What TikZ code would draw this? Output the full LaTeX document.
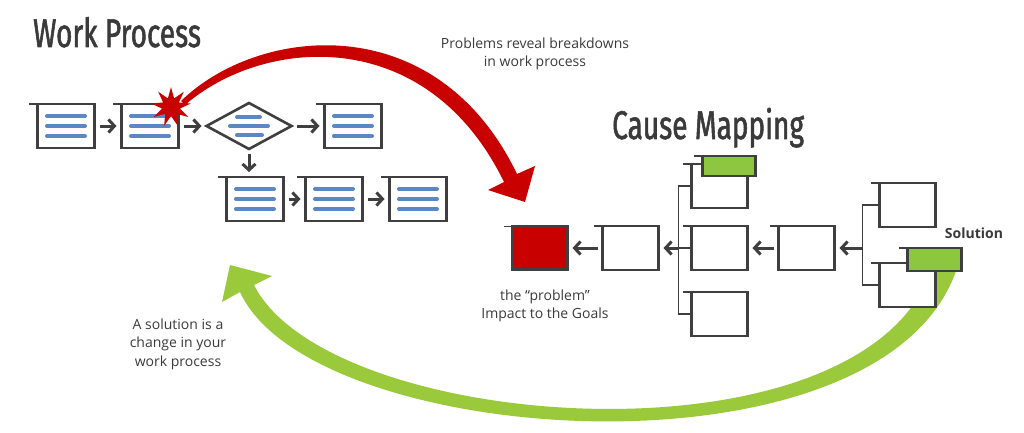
\documentclass[tikz,border=0pt]{standalone}
\usepackage{fontspec}
\setmainfont{Open Sans}
\newfontfamily\headfont[FakeStretch=0.70,FakeBold=1.4]{Fira Sans}
\definecolor{cmInk}{HTML}{3F3F3F}
\definecolor{cmText}{HTML}{3A3A3A}
\definecolor{cmBlue}{HTML}{5B87C5}
\definecolor{cmRed}{HTML}{C80000}
\definecolor{cmGreen}{HTML}{8DC63F}
\definecolor{cmArc}{HTML}{9ACA3C}
\usetikzlibrary{arrows.meta,positioning,shapes.geometric}

\begin{document}
\begin{tikzpicture}[x=1pt,y=-1pt,
  bar/.style={cmBlue,line width=4pt,line cap=round},
  doc/.style={draw=cmInk,line width=2.8pt,fill=white,inner sep=0pt,outer sep=0pt,
              minimum width=57pt,minimum height=44pt,
              path picture={\foreach \dy in {-10,0,10}
                \draw[bar] ([xshift=-19pt,yshift=\dy pt]path picture bounding box.center) -- ++(38pt,0);}},
  dec/.style={diamond,draw=cmInk,line width=2.6pt,fill=white,inner sep=0pt,outer sep=0pt,
              minimum width=85pt,minimum height=46pt,
              path picture={
                \draw[bar] ([xshift=-12pt,yshift=9pt]path picture bounding box.center) -- ++(23pt,0);
                \draw[bar] ([xshift=-19pt]path picture bounding box.center) -- ++(38pt,0);
                \draw[bar] ([xshift=-12pt,yshift=-9pt]path picture bounding box.center) -- ++(25pt,0);}},
  cbox/.style={draw=cmInk,line width=2.8pt,fill=white,inner sep=0pt,outer sep=0pt,
               minimum width=56pt,minimum height=44pt},
  hdr/.style={cbox,fill=cmGreen,minimum width=54pt,minimum height=21pt},
  tail/.style={cmInk,line width=1.3pt},
  link/.style={cmInk,line width=1.6pt},
  arr/.style={-{Straight Barb[length=6pt,width=13pt]},cmInk,line width=3pt,
              shorten <=5pt,shorten >=5pt},
  note/.style={align=center,text=cmText,font=\fontsize{14}{18.5}\selectfont},
  head/.style={text=cmText,font=\headfont\fontsize{40}{44}\selectfont,inner sep=0pt},
  node distance=28pt
]
  \useasboundingbox (0,0) rectangle (1024,433);

  % big arcs: breakdown -> problem, solution -> work process
  \coordinate (redtip) at (525,202);
  \coordinate (greentip) at (230,265);
  \fill[cmRed] (181,101) .. controls (258,26) and (436,6) .. (517,174)
    -- (535,166) -- (redtip) -- (488,190) -- (504,182)
    .. controls (426,22) and (262,38) .. (185,105) -- cycle;
  \fill[cmArc] (240,292) .. controls (312,450) and (890,488) .. (958,265)
    -- (933,265) .. controls (870,472) and (330,435) .. (254,285)
    -- (272,276) -- (greentip) -- (222,302) -- cycle;

  % Work Process
  \node[head,anchor=base west] (wpt) at (33,47) {Work Process};
  \node[doc] (wp1) at (66,126) {};
  \node[doc,right=27pt of wp1] (wp2) {};
  \node[dec,right=28pt of wp2] (dec) {};
  \node[doc,right=33pt of dec] (wp4) {};
  \node[doc,below=28pt of dec,xshift=6pt] (wp5) {};
  \node[doc,right=22pt of wp5] (wp6) {};
  \node[doc,right=27pt of wp6] (wp7) {};

  \draw[arr] (wp1) -- (wp2);
  \draw[arr] (wp2) -- (dec);
  \draw[arr] (dec) -- (wp4);
  \draw[arr] (dec.south) -- (dec.south |- wp5.north);
  \draw[arr] (wp5) -- (wp6);
  \draw[arr] (wp6) -- (wp7);

  \node[star,star points=9,star point ratio=2.2,fill=cmRed,
        minimum size=40pt,inner sep=0pt] (burst) at (171,107) {};

  % Cause Mapping
  \node[head,anchor=base west] (cmt) at (612,139) {Cause Mapping};
  \node[cbox,fill=cmRed,minimum width=55pt,minimum height=43pt] (prob) at (540,248) {};
  \node[cbox,right=35pt of prob] (cA) {};
  \node[cbox,right=33pt of cA] (c2) {};
  \node[cbox,above=18pt of c2] (c1) {};
  \node[cbox,below=22pt of c2] (c3) {};
  \node[cbox,right=31pt of c2] (cB) {};
  \node[cbox,right=45pt of cB,yshift=43pt] (r1) {};
  \node[cbox,below=36pt of r1] (r2) {};
  \node[hdr,anchor=north east,minimum width=53pt,minimum height=20pt] (g1)
        at ([xshift=8pt,yshift=8pt]c1.north east) {};
  \node[hdr,anchor=north east,minimum height=23pt] (g2)
        at ([xshift=26pt,yshift=15pt]r2.north east) {};

  \foreach \n in {wp1,wp2,wp4,wp5,wp6,wp7,prob,cA,c1,c2,c3,cB,r1,r2,g1,g2}
    \draw[tail] (\n.north west) -- ++(-9pt,0);

  \coordinate (j1) at ([xshift=-13pt]c2.west);
  \coordinate (j2) at ([xshift=28pt]cB.east);
  \draw[link] (c1.west) -| (j1) |- (c3.west);
  \draw[link] (c2.west) -- (j1);
  \draw[link] (r1.west) -| (j2) |- (r2.west);

  \draw[arr] (cA) -- (prob);
  \draw[arr,shorten <=0pt] (j1) -- (cA);
  \draw[arr] (cB) -- (c2);
  \draw[arr,shorten <=0pt] (j2) -- (cB);

  % labels
  \node[note] (brk) at (535,54) {Problems reveal breakdowns\\in work process};
  \node[note] (goal) at (545,306) {the “problem”\\Impact to the Goals};
  \node[note] (chg) at (178,344) {A solution is a\\change in your\\work process};
  \node[note,font=\bfseries\fontsize{14}{18}\selectfont] (sol) at (974,233) {Solution};
\end{tikzpicture}
\end{document}
